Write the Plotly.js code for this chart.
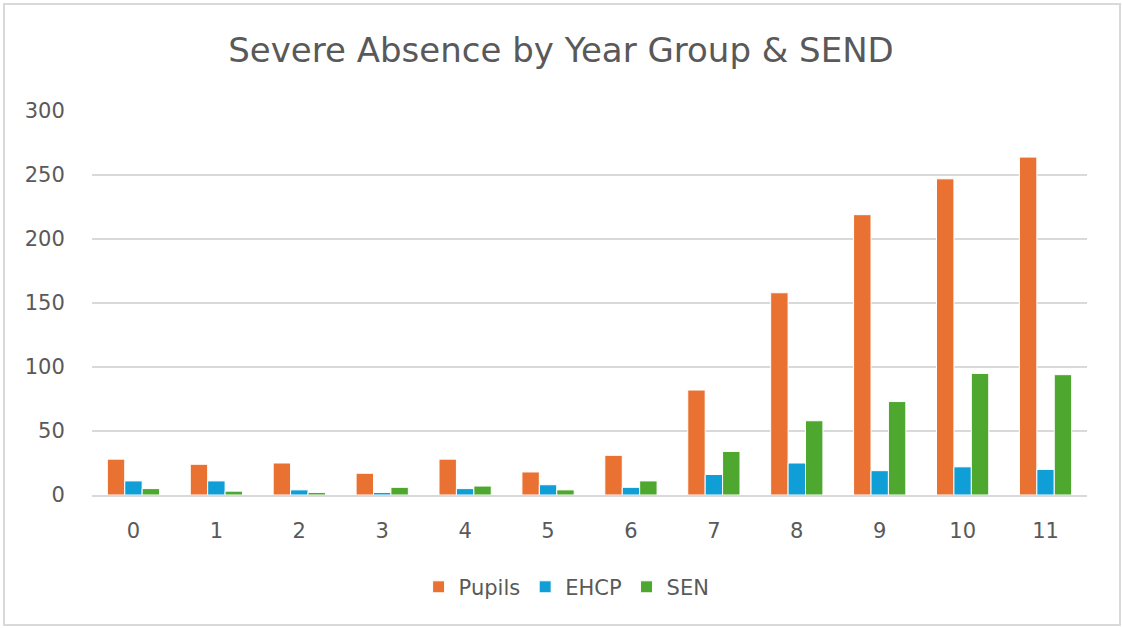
<!DOCTYPE html>
<html>
<head>
<meta charset="utf-8">
<script src="https://cdn.plot.ly/plotly-3.0.1.min.js"></script>
<style>
html,body{margin:0;padding:0;background:#fff;}
#wrap{position:relative;width:1122px;height:628px;}
#chart{position:absolute;left:0;top:0;width:1122px;height:628px;}
#frame{position:absolute;left:3px;top:3px;width:1114px;height:619px;border:2px solid #d9d9d9;pointer-events:none;}
</style>
</head>
<body>
<div id="wrap"><div id="chart"></div><div id="frame"></div></div>
<script>
const yearGroups = ["0","1","2","3","4","5","6","7","8","9","10","11"];
const pupils = [28, 24, 25, 17, 28, 18, 31, 82, 158, 219, 247, 264];
const ehcp   = [11, 11, 4, 2, 5, 8, 6, 16, 25, 19, 22, 20];
const sen    = [5, 3, 2, 6, 7, 4, 11, 34, 58, 73, 95, 94];
const yTicks = [0, 50, 100, 150, 200, 250, 300];

const fontFam = "DejaVu Sans, Liberation Sans, sans-serif";
const mk = (name, vals, color) => ({
  type: "bar", name: name, x: yearGroups, y: vals,
  marker: {color: color, line: {color: "#ffffff", width: 1}},
  hoverinfo: "x+y+name"
});
const data = [
  mk("Pupils", pupils, "#E97132"),
  mk("EHCP", ehcp, "#0F9ED5"),
  mk("SEN", sen, "#4EA72E")
];
const layout = {
  width: 1122, height: 628,
  margin: {l: 92, r: 35, t: 111, b: 133},
  paper_bgcolor: "#ffffff", plot_bgcolor: "#ffffff",
  font: {family: fontFam, color: "#595959", size: 21},
  title: {text: "Severe Absence by Year Group & SEND", x: 0.5, xanchor: "center", y: 0.92, yanchor: "middle", yref: "container",
          font: {family: fontFam, size: 34, color: "#595959"}},
  barmode: "group", bargap: 0.37, bargroupgap: 0,
  xaxis: {type: "category", showgrid: false, zeroline: false, showline: true, linecolor: "#d9d9d9", linewidth: 2,
          ticks: "outside", ticklen: 16, tickcolor: "rgba(0,0,0,0)", tickfont: {size: 21, color: "#595959"}},
  yaxis: {range: [0, 300], tickvals: yTicks, showgrid: true, gridcolor: "#d9d9d9", gridwidth: 2, zeroline: false,
          showline: false, ticks: "outside", ticklen: 22, tickcolor: "rgba(0,0,0,0)", tickfont: {size: 21, color: "#595959"}},
  legend: {orientation: "h", x: 0.477, xanchor: "center", y: -0.24, yanchor: "middle",
           font: {size: 21, color: "#595959"}, itemwidth: 30, traceorder: "normal"},
  showlegend: true
};
Plotly.newPlot("chart", data, layout, {displayModeBar: false, responsive: false});
</script>
</body>
</html>
